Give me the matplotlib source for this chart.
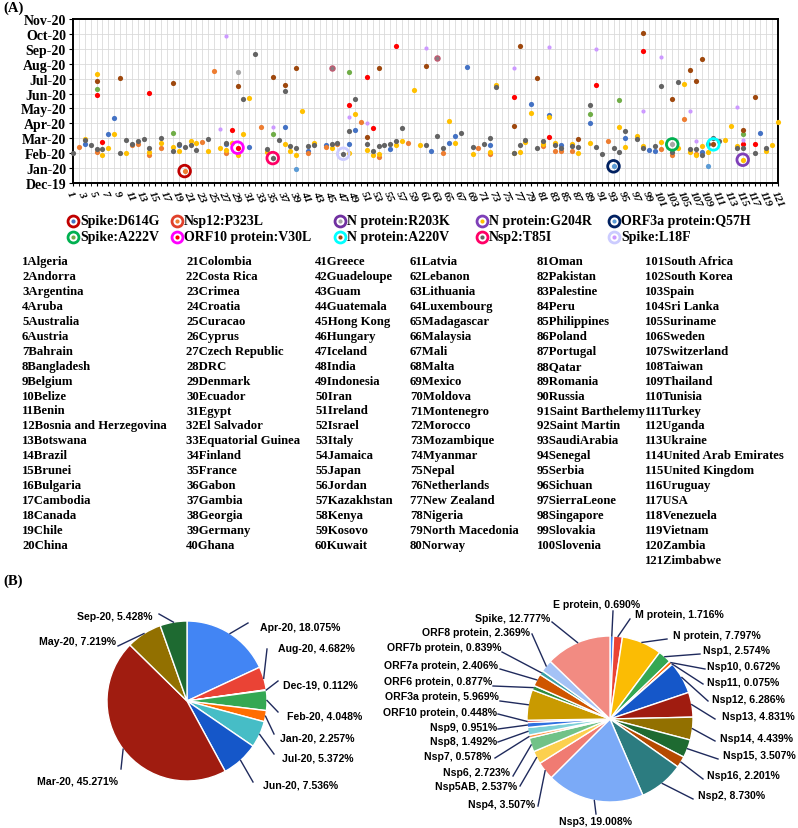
import matplotlib
matplotlib.use('Agg')
from matplotlib import pyplot as plt
import numpy as np

plt.rcParams['font.family'] = ['Liberation Serif', 'DejaVu Serif']
plt.rcParams['font.weight'] = 'bold'

# ---- panel A data: (country number, months after Dec-19) ----
month_ticks = ['Dec-19', 'Jan-20', 'Feb-20', 'Mar-20', 'Apr-20', 'May-20', 'Jun-20',
               'Jul-20', 'Aug-20', 'Sep-20', 'Oct-20', 'Nov-20']

d614g = [(3, 2.59), (7, 3.30), (8, 4.35), (19, 2.52), (27, 2.59), (31, 2.43), (37, 3.73),
         (41, 2.17), (44, 2.52), (48, 2.59), (49, 3.53), (55, 2.30), (62, 2.12), (65, 2.66),
         (66, 3.12), (68, 7.75), (72, 2.52), (79, 5.27), (82, 4.53), (84, 2.57), (89, 4.04),
         (95, 3.04), (99, 2.19), (100, 2.14), (108, 2.05), (118, 3.35)]
p323l = [(2, 2.43), (5, 2.08), (11, 2.52), (12, 2.63), (14, 1.85), (16, 2.34), (20, 0.80),
         (23, 2.75), (25, 7.48), (27, 2.01), (33, 3.75), (41, 1.99), (44, 2.43), (46, 2.59),
         (50, 4.08), (53, 1.74), (58, 2.66), (64, 2.01), (70, 2.37), (72, 1.93), (81, 2.46),
         (83, 2.12), (84, 2.14), (86, 2.16), (92, 2.83), (101, 2.28), (103, 1.88), (105, 4.26),
         (107, 1.93)]
r203k = [(29, 7.46), (103, 2.59)]
g204r = [(3, 2.97), (5, 7.34), (6, 1.90), (7, 2.37), (8, 3.30), (10, 2.03), (14, 2.08),
         (16, 2.68), (18, 2.43), (19, 2.17), (21, 2.81), (22, 2.70), (24, 2.14), (26, 2.37),
         (27, 2.20), (28, 2.70), (29, 1.90), (30, 3.26), (31, 5.71), (34, 2.08), (37, 2.59),
         (38, 2.14), (39, 1.85), (40, 4.82), (42, 2.68), (45, 2.37), (48, 2.03), (49, 4.62),
         (51, 2.19), (52, 1.90), (53, 1.92), (56, 2.57), (57, 2.83), (59, 6.27), (60, 2.52),
         (65, 4.17), (66, 2.70), (69, 1.93), (72, 2.08), (73, 6.58), (76, 1.98), (77, 2.05),
         (78, 2.73), (79, 4.71), (81, 2.59), (82, 4.44), (83, 2.66), (86, 2.59), (87, 2.03),
         (89, 2.70), (94, 3.77), (95, 2.39), (97, 3.13), (98, 2.46), (101, 2.73), (104, 2.32),
         (105, 6.61), (106, 2.05), (107, 1.85), (108, 2.46), (109, 2.10), (112, 2.88),
         (113, 3.82), (114, 2.50), (115, 1.56), (119, 2.16), (120, 2.52), (121, 4.06)]
q57h = [(39, 0.92), (93, 1.12), (109, 1.14)]
a222v = [(5, 6.32), (18, 3.37), (35, 3.30), (48, 7.46), (89, 4.64), (94, 5.58), (115, 3.28)]
v30l = [(5, 5.87), (6, 2.75), (14, 6.07), (28, 3.53), (29, 2.37), (48, 5.25), (51, 7.12),
        (52, 3.66), (56, 9.22), (76, 5.74), (82, 3.08), (90, 6.60), (98, 8.84), (115, 2.62),
        (117, 2.59)]
a220v = [(5, 6.85), (9, 7.03), (18, 6.72), (29, 6.50), (35, 7.14), (37, 6.60), (39, 7.68),
         (51, 3.08), (53, 7.70), (61, 7.86), (76, 3.80), (77, 9.22), (80, 7.05), (87, 2.95),
         (98, 10.04), (103, 5.63), (106, 7.59), (107, 6.81), (108, 8.33), (110, 2.59),
         (115, 3.53), (117, 5.80)]
t85i = [(1, 2.03), (3, 2.88), (4, 2.57), (5, 2.30), (6, 2.30), (9, 1.99), (10, 2.90),
        (11, 2.59), (12, 2.83), (13, 2.92), (14, 2.32), (16, 2.99), (18, 2.17), (19, 2.61),
        (20, 2.41), (21, 2.52), (22, 2.19), (24, 2.97), (27, 2.68), (30, 5.65), (32, 8.68),
        (34, 2.25), (35, 1.67), (36, 2.88), (37, 6.14), (38, 2.48), (39, 2.32), (41, 2.48),
        (42, 2.52), (45, 2.59), (46, 2.68), (47, 1.96), (48, 3.48), (49, 5.63), (51, 2.59),
        (52, 2.17), (53, 2.46), (54, 2.57), (55, 2.59), (56, 2.79), (57, 3.70), (61, 2.52),
        (63, 3.12), (64, 2.37), (67, 3.37), (69, 2.43), (71, 2.59), (72, 2.99), (73, 6.45),
        (76, 2.03), (77, 2.52), (78, 2.90), (80, 2.32), (81, 2.79), (83, 2.52), (84, 2.34),
        (86, 2.50), (87, 2.43), (89, 5.20), (90, 2.43), (91, 1.96), (93, 2.32), (94, 2.05),
        (95, 3.50), (97, 2.95), (98, 2.32), (100, 2.46), (101, 6.50), (103, 2.10), (104, 6.76),
        (106, 2.25), (107, 2.28), (108, 1.90), (109, 2.59), (110, 2.99), (111, 2.83),
        (114, 2.32), (115, 2.32), (117, 1.99), (119, 2.34)]
l18f = [(26, 3.60), (27, 9.89), (35, 3.73), (48, 4.40), (51, 4.04), (61, 9.04), (76, 7.68),
        (82, 9.15), (90, 9.00), (98, 4.80), (101, 8.48), (106, 4.84), (107, 2.79), (114, 5.13),
        (115, 2.90)]
outlined = [(45, 7.68), (63, 8.37)]

# first appearance of a mutation (ringed points)
ring_country = [20, 29, 35, 47, 93, 103, 110, 115]
ring_month = [0.80, 2.37, 1.67, 1.96, 1.12, 2.59, 2.59, 1.56]
ring_mut = ['Spike:D614G', 'ORF10 protein:V30L', 'Nsp2:T85I', 'Spike:L18F',
            'ORF3a protein:Q57H', 'Spike:A222V', 'N protein:A220V', 'N protein:G204R']

mut_names = ['Spike:D614G', 'Nsp12:P323L', 'N protein:R203K', 'N protein:G204R',
             'ORF3a protein:Q57H', 'Spike:A222V', 'ORF10 protein:V30L', 'N protein:A220V',
             'Nsp2:T85I', 'Spike:L18F']
mut_series = [d614g, p323l, r203k, g204r, q57h, a222v, v30l, a220v, t85i, l18f]
dot_col = ['#4472C4', '#ED7D31', '#A5A5A5', '#FFC000', '#5B9BD5', '#70AD47', '#FF0000',
           '#9E480E', '#636363', '#CC99FF']
ring_col = ['#C00000', '#E0402A', '#7030A0', '#7E3FB8', '#002060', '#00B050', '#FF00FF',
            '#00FFFF', '#FF0066', '#CCCCFF']

countries = ['Algeria', 'Andorra', 'Argentina', 'Aruba', 'Australia', 'Austria', 'Bahrain',
             'Bangladesh', 'Belgium', 'Belize', 'Benin', 'Bosnia and Herzegovina', 'Botswana',
             'Brazil', 'Brunei', 'Bulgaria', 'Cambodia', 'Canada', 'Chile', 'China', 'Colombia',
             'Costa Rica', 'Crimea', 'Croatia', 'Curacao', 'Cyprus', 'Czech Republic', 'DRC',
             'Denmark', 'Ecuador', 'Egypt', 'El Salvador', 'Equatorial Guinea', 'Finland',
             'France', 'Gabon', 'Gambia', 'Georgia', 'Germany', 'Ghana', 'Greece', 'Guadeloupe',
             'Guam', 'Guatemala', 'Hong Kong', 'Hungary', 'Iceland', 'India', 'Indonesia', 'Iran',
             'Ireland', 'Israel', 'Italy', 'Jamaica', 'Japan', 'Jordan', 'Kazakhstan', 'Kenya',
             'Kosovo', 'Kuwait', 'Latvia', 'Lebanon', 'Lithuania', 'Luxembourg', 'Madagascar',
             'Malaysia', 'Mali', 'Malta', 'Mexico', 'Moldova', 'Montenegro', 'Morocco',
             'Mozambique', 'Myanmar', 'Nepal', 'Netherlands', 'New Zealand', 'Nigeria',
             'North Macedonia', 'Norway', 'Oman', 'Pakistan', 'Palestine', 'Peru', 'Philippines',
             'Poland', 'Portugal', 'Qatar', 'Romania', 'Russia', 'Saint Barthelemy',
             'Saint Martin', 'SaudiArabia', 'Senegal', 'Serbia', 'Sichuan', 'SierraLeone',
             'Singapore', 'Slovakia', 'Slovenia', 'South Africa', 'South Korea', 'Spain',
             'Sri Lanka', 'Suriname', 'Sweden', 'Switzerland', 'Taiwan', 'Thailand', 'Tunisia',
             'Turkey', 'Uganda', 'Ukraine', 'United Arab Emirates', 'United Kingdom', 'Uruguay',
             'USA', 'Venezuela', 'Vietnam', 'Zambia', 'Zimbabwe']

# ---- panel B data ----
month_names = ['Apr-20', 'Aug-20', 'Dec-19', 'Feb-20', 'Jan-20', 'Jul-20', 'Jun-20',
               'Mar-20', 'May-20', 'Sep-20']
month_pct = [18.075, 4.682, 0.112, 4.048, 2.257, 5.372, 7.536, 45.271, 7.219, 5.428]

protein_names = ['E protein', 'M protein', 'N protein', 'Nsp1', 'Nsp10', 'Nsp11', 'Nsp12',
                 'Nsp13', 'Nsp14', 'Nsp15', 'Nsp16', 'Nsp2', 'Nsp3', 'Nsp4', 'Nsp5AB', 'Nsp6',
                 'Nsp7', 'Nsp8', 'Nsp9', 'ORF10 protein', 'ORF3a protein', 'ORF6 protein',
                 'ORF7a protein', 'ORF7b protein', 'ORF8 protein', 'Spike']
protein_pct = [0.690, 1.716, 7.797, 2.574, 0.672, 0.075, 6.286, 4.831, 4.439, 3.507, 2.201,
               8.730, 19.008, 3.507, 2.537, 2.723, 0.578, 1.492, 0.951, 0.448, 5.969, 0.877,
               2.406, 0.839, 2.369, 12.777]

pie_cols = ['#4285F4', '#EA4335', '#FBBC04', '#34A853', '#FF6D01', '#46BDC6', '#1557C9',
            '#A01C10', '#927000', '#1E6A31', '#B54A00', '#2C7C80', '#7BAAF7', '#F07B72',
            '#FCD04F', '#71C287', '#FF994D', '#7ED1D7', '#2F6FE0', '#D93A2E', '#C99A00',
            '#2E8B3E', '#CF5500', '#3AA0A8', '#A4C2F6', '#F28B82']

W, H = 798, 829
fig = plt.figure(figsize=(W / 100, H / 100), dpi=100)

# ---------------- panel A scatter ----------------
ax = fig.add_axes([73 / W, 1 - 184 / H, 705 / W, 164 / H])
for pts, col in zip(mut_series, dot_col):
    arr = np.array(pts)
    sz = 9 if col == '#CC99FF' else 14
    ax.scatter(arr[:, 0], arr[:, 1], s=sz, color=col, linewidths=0, zorder=3, clip_on=False)
arr = np.array(outlined)
ax.scatter(arr[:, 0], arr[:, 1], s=14, facecolor='#8a7a80', edgecolor='#C2566E',
           linewidths=0.9, zorder=3)
for c, m, name in zip(ring_country, ring_month, ring_mut):
    ax.scatter(c, m, s=70, facecolor='none', edgecolor=ring_col[mut_names.index(name)],
               linewidths=2.0, zorder=4)

ax.set_xlim(1, 121)
ax.set_ylim(0, 11)
ax.set_yticks(range(12))
ax.set_yticklabels(month_ticks, fontsize=10, fontweight='bold')
ax.set_xticks(range(1, 122, 2))
ax.set_xticks(range(2, 122, 2), minor=True)
ax.set_xticklabels([str(i) for i in range(1, 122, 2)], fontsize=8, fontweight='bold',
                   fontstyle='italic', rotation=-65, ha='left', va='top',
                   rotation_mode='anchor')
ax.tick_params(axis='x', which='both', length=2, pad=2)
ax.tick_params(axis='y', length=3, pad=2)
ax.grid(True, which='both', color='#DADADA', linewidth=0.6)
ax.set_axisbelow(True)
for sp in ax.spines.values():
    sp.set_linewidth(1.4)
    sp.set_color('black')

# ---------------- overlay in pixel coordinates ----------------
ov = fig.add_axes([0, 0, 1, 1])
ov.patch.set_alpha(0)


def Y(y):
    return H - y


ov.text(3, Y(8), '(A)', fontsize=10.5, fontweight='bold', va='center')
ov.text(3, Y(581), '(B)', fontsize=10.5, fontweight='bold', va='center')

# legend
leg_x = [73, 177, 340, 482, 614]
leg_y = [222, 238]
leg_rows = [['Spike:D614G', 'Nsp12:P323L', 'N protein:R203K', 'N protein:G204R',
             'ORF3a protein:Q57H'],
            ['Spike:A222V', 'ORF10 protein:V30L', 'N protein:A220V', 'Nsp2:T85I',
             'Spike:L18F']]
for ly, row in zip(leg_y, leg_rows):
    for lx, name in zip(leg_x, row):
        k = mut_names.index(name)
        ov.scatter(lx, Y(ly), s=62, facecolor='white', edgecolor=ring_col[k], linewidths=2.0)
        ov.scatter(lx, Y(ly), s=9, color=dot_col[k], linewidths=0)
        ov.text(lx + 7, Y(ly), name, fontsize=10, fontweight='bold', va='center')

# country list
col_x = [22, 186, 315, 410, 537, 645]
for i, name in enumerate(countries):
    col = min(i // 20, 5)
    row = i - col * 20
    ov.text(col_x[col], Y(262 + row * 14.95), f'{i + 1}{name}', fontsize=9.2,
            fontweight='bold', va='center')

# ---------------- panel B pies ----------------
lead = '#1F2A5C'
pie_font = dict(family=['Liberation Sans', 'DejaVu Sans'], fontsize=7.6, fontweight='bold',
                va='center')


def draw_pie(vals, names, cols, cx, cy, r, labpos):
    ov.pie(vals, colors=cols, center=(cx, Y(cy)), radius=r, startangle=90,
           counterclock=False, frame=True,
           wedgeprops=dict(edgecolor='white', linewidth=1.0))
    cum = np.cumsum([0] + list(vals))
    for i, (name, v) in enumerate(zip(names, vals)):
        th = np.radians(360 * (cum[i] + v / 2) / 100)
        sx, sy = cx + r * np.sin(th), cy - r * np.cos(th)
        tx, ty, ha, ex, ey = labpos[i]
        ov.plot([sx, ex], [Y(sy), Y(ey)], color=lead, lw=1.0)
        ov.text(tx, Y(ty), f'{name}, {v:.3f}%', ha=ha, **pie_font)


month_lab = [(260, 628, 'left', 248, 624), (278, 649, 'left', 267, 650),
             (283, 686, 'left', 278, 682), (287, 717, 'left', 278, 713),
             (280, 739, 'left', 274, 735), (282, 759, 'left', 274, 755),
             (263, 786, 'left', 253, 783), (37, 782, 'left', 121, 770),
             (116, 642, 'right', 118, 647), (152, 617, 'right', 159, 615)]
draw_pie(month_pct, month_names, pie_cols[:10], 187, 702, 80, month_lab)

protein_lab = [(597, 605, 'center', 613, 612), (635, 615, 'left', 630, 620),
               (673, 636, 'left', 667, 640), (703, 651, 'left', 700, 655),
               (707, 667, 'left', 705, 670), (707, 683, 'left', 703, 685),
               (712, 700, 'left', 708, 702), (722, 717, 'left', 715, 720),
               (720, 739, 'left', 715, 742), (723, 756, 'left', 718, 760),
               (707, 776, 'left', 703, 780), (698, 796, 'left', 693, 800),
               (596, 822, 'center', 596, 815), (535, 805, 'right', 538, 807),
               (517, 787, 'right', 520, 787), (510, 773, 'right', 513, 777),
               (491, 757, 'right', 495, 759), (497, 742, 'right', 498, 743),
               (497, 728, 'right', 498, 730), (497, 713, 'right', 498, 715),
               (499, 697, 'right', 500, 702), (492, 682, 'right', 493, 687),
               (498, 666, 'right', 500, 670), (502, 648, 'right', 502, 653),
               (530, 633, 'right', 532, 635), (550, 619, 'right', 552, 623)]
draw_pie(protein_pct, protein_names, pie_cols, 610, 720, 83, protein_lab)

ov.set_xlim(0, W)
ov.set_ylim(0, H)
ov.axis('off')

fig.savefig('out.png', dpi=100)
